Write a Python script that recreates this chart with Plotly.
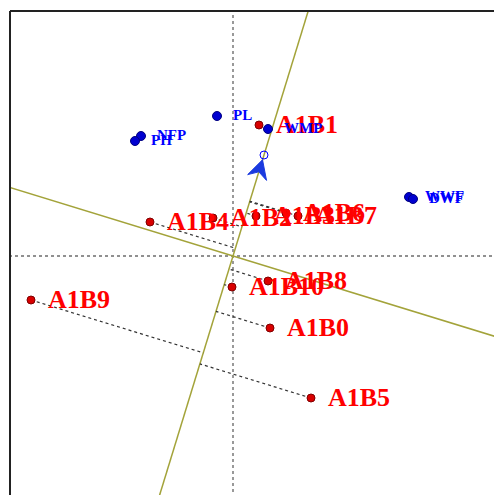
import numpy as np
import plotly.graph_objects as go

# Genotype scores (PC1, PC2)
genotypes = ["A1B0", "A1B1", "A1B2", "A1B3", "A1B4", "A1B5",
             "A1B6", "A1B7", "A1B8", "A1B9", "A1B10"]
gen_x = [0.925, 0.65, -0.5, 0.575, -2.075, 1.95, 1.325, 1.625, 0.875, -5.05, -0.025]
gen_y = [-1.8, 3.275, 0.95, 1.0, 0.85, -3.55, 1.075, 1.0, -0.625, -1.1, -0.775]

# Trait / environment scores (PC1, PC2)
traits = ["PL", "NFP", "PH", "WMP", "WWF", "DWF"]
trait_x = [-0.4, -2.3, -2.45, 0.875, 4.4, 4.5]
trait_y = [3.5, 3.0, 2.875, 3.175, 1.475, 1.425]

# Average environment coordinate
avg_x, avg_y = 0.775, 2.525

# Axis ranges (equal units per pixel on both axes)
x_range = [-5.575, 6.525]
y_range = [-5.975, 6.125]

RED = "#ff0000"
BLUE = "#0000ff"
OLIVE = "#a3a33a"

fig = go.Figure()

# zero reference lines
fig.add_trace(go.Scatter(x=[0, 0], y=[-20, 20], mode="lines",
                         line=dict(color="#808080", width=1.6, dash="dot"),
                         hoverinfo="skip", showlegend=False))
fig.add_trace(go.Scatter(x=[-20, 20], y=[0, 0], mode="lines",
                         line=dict(color="#222222", width=1.2, dash="dot"),
                         hoverinfo="skip", showlegend=False))

# average-environment axis and its perpendicular through the origin
u = np.array([avg_x, avg_y]) / np.hypot(avg_x, avg_y)
v = np.array([u[1], -u[0]])
L = 30
fig.add_trace(go.Scatter(x=[-L * u[0], L * u[0]], y=[-L * u[1], L * u[1]], mode="lines",
                         line=dict(color=OLIVE, width=1.5),
                         hoverinfo="skip", showlegend=False))
fig.add_trace(go.Scatter(x=[-L * v[0], L * v[0]], y=[-L * v[1], L * v[1]], mode="lines",
                         line=dict(color=OLIVE, width=1.5),
                         hoverinfo="skip", showlegend=False))

# projections of genotypes onto the average-environment axis
for gx, gy in zip(gen_x, gen_y):
    d = gx * u[0] + gy * u[1]
    fig.add_trace(go.Scatter(x=[gx, d * u[0]], y=[gy, d * u[1]], mode="lines",
                             line=dict(color="#333333", width=1.2, dash="dot"),
                             hoverinfo="skip", showlegend=False))

# genotype points
fig.add_trace(go.Scatter(x=gen_x, y=gen_y, mode="markers",
                         marker=dict(size=8, color="#d80000",
                                     line=dict(color="#800000", width=1)),
                         showlegend=False))

# trait points
fig.add_trace(go.Scatter(x=trait_x, y=trait_y, mode="markers",
                         marker=dict(size=9, color="#0000d0",
                                     line=dict(color="#000080", width=1)),
                         showlegend=False))

# average environment marker
fig.add_trace(go.Scatter(x=[avg_x], y=[avg_y], mode="markers",
                         marker=dict(size=8, color="rgba(0,0,0,0)",
                                     line=dict(color=BLUE, width=1)),
                         showlegend=False))

# arrowhead pointing at the average environment
px_per_unit = 484 / (x_range[1] - x_range[0])
tip = np.array([avg_x, avg_y]) - u * (5 / px_per_unit)
back = -u
head_len = 21 / px_per_unit
ang = np.deg2rad(28)
def rot(vec, a):
    return np.array([vec[0] * np.cos(a) - vec[1] * np.sin(a),
                     vec[0] * np.sin(a) + vec[1] * np.cos(a)])
w1 = tip + rot(back, ang) * head_len
w2 = tip + rot(back, -ang) * head_len
notch = tip + back * head_len * 0.6
fig.add_trace(go.Scatter(x=[tip[0], w1[0], notch[0], w2[0], tip[0]],
                         y=[tip[1], w1[1], notch[1], w2[1], tip[1]],
                         mode="lines", fill="toself", fillcolor="#1a3adf",
                         line=dict(color="#1a3adf", width=1),
                         hoverinfo="skip", showlegend=False))

annotations = []
for name, gx, gy in zip(genotypes, gen_x, gen_y):
    annotations.append(dict(x=gx, y=gy, text=name, showarrow=False,
                            xanchor="left", yanchor="middle", xshift=15, yshift=1,
                            font=dict(family="Liberation Serif", size=26,
                                      color=RED, weight="bold")))
for name, tx, ty in zip(traits, trait_x, trait_y):
    annotations.append(dict(x=tx, y=ty, text=name, showarrow=False,
                            xanchor="left", yanchor="middle", xshift=14, yshift=1,
                            font=dict(family="Liberation Serif", size=15,
                                      color=BLUE, weight="bold")))

# frame: left and top edges
shapes = [
    dict(type="line", xref="paper", yref="paper", x0=0, x1=0, y0=0, y1=1,
         line=dict(color="#222222", width=2)),
    dict(type="line", xref="paper", yref="paper", x0=0, x1=1, y0=1, y1=1,
         line=dict(color="#222222", width=2)),
]

fig.update_layout(
    width=494, height=495,
    margin=dict(l=10, r=0, t=11, b=0),
    paper_bgcolor="white", plot_bgcolor="white",
    xaxis=dict(range=x_range, visible=False, showgrid=False, zeroline=False),
    yaxis=dict(range=y_range, visible=False, showgrid=False, zeroline=False),
    annotations=annotations,
    shapes=shapes,
    showlegend=False,
)

fig.write_html("out.html")
